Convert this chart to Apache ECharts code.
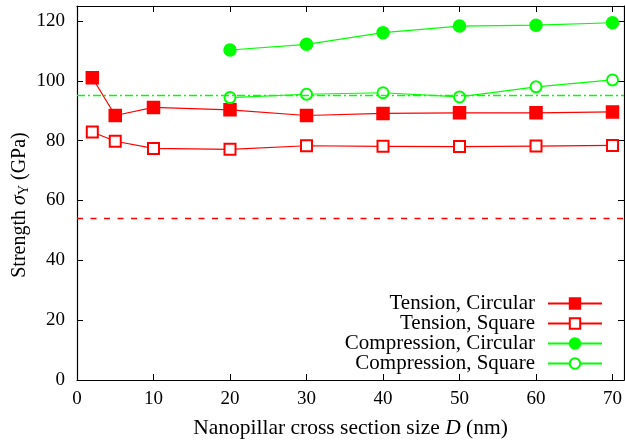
<!DOCTYPE html>
<html>
<head>
<meta charset="utf-8">
<script src="https://cdn.jsdelivr.net/npm/echarts@6/dist/echarts.min.js"></script>
<style>html,body{margin:0;padding:0;background:#fff;}#c{width:625px;height:444px;}</style>
</head>
<body>
<div id="c"></div>
<script>
// ---- data ----
const xTension = [2, 5, 10, 20, 30, 40, 50, 60, 70];
const tensionCircular = [101.0, 88.4, 91.1, 90.3, 88.4, 89.1, 89.3, 89.3, 89.6];
const tensionSquare = [82.9, 79.8, 77.4, 77.1, 78.3, 78.1, 78.0, 78.2, 78.4];
const xCompression = [20, 30, 40, 50, 60, 70];
const compressionCircular = [110.3, 112.2, 116.1, 118.3, 118.6, 119.4];
const compressionSquare = [94.4, 95.5, 96.0, 94.6, 98.0, 100.3];
const tensionReference = 54.1;
const compressionReference = 95.3;
const seriesNames = ['Tension, Circular', 'Tension, Square', 'Compression, Circular', 'Compression, Square'];
const xTicks = [0, 10, 20, 30, 40, 50, 60, 70];
const yTicks = [0, 20, 40, 60, 80, 100, 120];

const RED = '#ff0000', GREEN = '#00ff00';
const FONT = 'Liberation Serif';
const pairs = (xs, ys) => xs.map((x, i) => [x, ys[i]]);

const chart = echarts.init(document.getElementById('c'), null, {renderer: 'canvas'});

const axisCommon = {
  type: 'value',
  axisLine: {show: true, onZero: false, lineStyle: {color: '#000', width: 1.2}},
  axisTick: {show: true, inside: true, length: 6, lineStyle: {color: '#000', width: 1}},
  splitLine: {show: false}
};

function mkSeries(name, xs, ys, color, symbol, size, extra) {
  return Object.assign({
    name: name,
    type: 'line',
    data: pairs(xs, ys),
    symbol: symbol,
    symbolSize: size,
    showAllSymbol: true,
    lineStyle: {color: color, width: 1.2},
    itemStyle: {color: color, borderColor: color, borderWidth: 1.5},
    animation: false,
    z: 3
  }, extra || {});
}

function refLine(value, color, dash) {
  return {
    silent: true, symbol: 'none', label: {show: false}, animation: false,
    itemStyle: {color: color},
    lineStyle: {color: color, type: dash, width: 1.3, opacity: 1},
    emphasis: {disabled: true},
    data: [{yAxis: value, lineStyle: {color: color, type: dash, width: 1.3, opacity: 1}}]
  };
}

const legendRows = [303, 323, 343, 363];
const legends = seriesNames.map((n, i) => ({
  data: [n],
  right: 22,
  top: legendRows[i] - 10,
  align: 'right',
  padding: 0,
  itemWidth: 54,
  itemHeight: 13,
  selectedMode: false,
  textStyle: {fontFamily: FONT, fontSize: 21, color: '#000', padding: [0, 8, 0, 0], lineHeight: 20}
}));

chart.setOption({
  backgroundColor: '#fff',
  animation: false,
  grid: {left: 77, right: 1, top: 6, bottom: 64, containLabel: false, outerBoundsMode: 'none'},
  legend: legends,
  xAxis: [
    Object.assign({}, axisCommon, {
      position: 'bottom', min: 0, max: 71.5, interval: 10,
      axisLabel: {show: true, margin: 10, fontFamily: FONT, fontSize: 19, color: '#000',
        showMaxLabel: false,
        formatter: v => xTicks.includes(v) ? String(v) : ''},
      name: '{a|Nanopillar cross section size }{i|D}{a| (nm)}',
      nameLocation: 'middle', nameGap: 37, nameMoveOverlap: false,
      nameTextStyle: {rich: {
        a: {fontFamily: FONT, fontSize: 21.5, color: '#000'},
        i: {fontFamily: FONT, fontSize: 21.5, fontStyle: 'italic', color: '#000'}
      }}
    }),
    Object.assign({}, axisCommon, {
      position: 'top', min: 0, max: 71.5, interval: 10,
      axisLabel: {show: false}
    })
  ],
  yAxis: [
    Object.assign({}, axisCommon, {
      position: 'left', min: 0, max: 125, interval: 20,
      axisLabel: {show: true, margin: 12, fontFamily: FONT, fontSize: 19, color: '#000',
        showMaxLabel: false,
        formatter: v => yTicks.includes(v) ? String(v) : ''},
      name: '{a|Strength }{i|σ}{s|Y}{a| (GPa)}',
      nameLocation: 'middle', nameGap: 46, nameMoveOverlap: false,
      nameTextStyle: {
        padding: [0, 24, 0, 0],
        rich: {
          a: {fontFamily: FONT, fontSize: 20, color: '#000', verticalAlign: 'middle'},
          i: {fontFamily: FONT, fontSize: 20, fontStyle: 'italic', color: '#000', verticalAlign: 'middle'},
          s: {fontFamily: FONT, fontSize: 14, color: '#000', verticalAlign: 'bottom', padding: [8, 0, 0, 0]}
        }
      }
    }),
    Object.assign({}, axisCommon, {
      position: 'right', min: 0, max: 125, interval: 20,
      axisLabel: {show: false}
    })
  ],
  series: [
    mkSeries(seriesNames[0], xTension, tensionCircular, RED, 'rect', 12, {
      markLine: refLine(tensionReference, RED, [6, 7.5])
    }),
    mkSeries(seriesNames[1], xTension, tensionSquare, RED, 'emptyRect', 11),
    mkSeries(seriesNames[2], xCompression, compressionCircular, GREEN, 'circle', 12),
    mkSeries(seriesNames[3], xCompression, compressionSquare, GREEN, 'emptyCircle', 11, {
      markLine: refLine(compressionReference, GREEN, [8, 3, 2, 3])
    })
  ]
});
</script>
</body>
</html>
